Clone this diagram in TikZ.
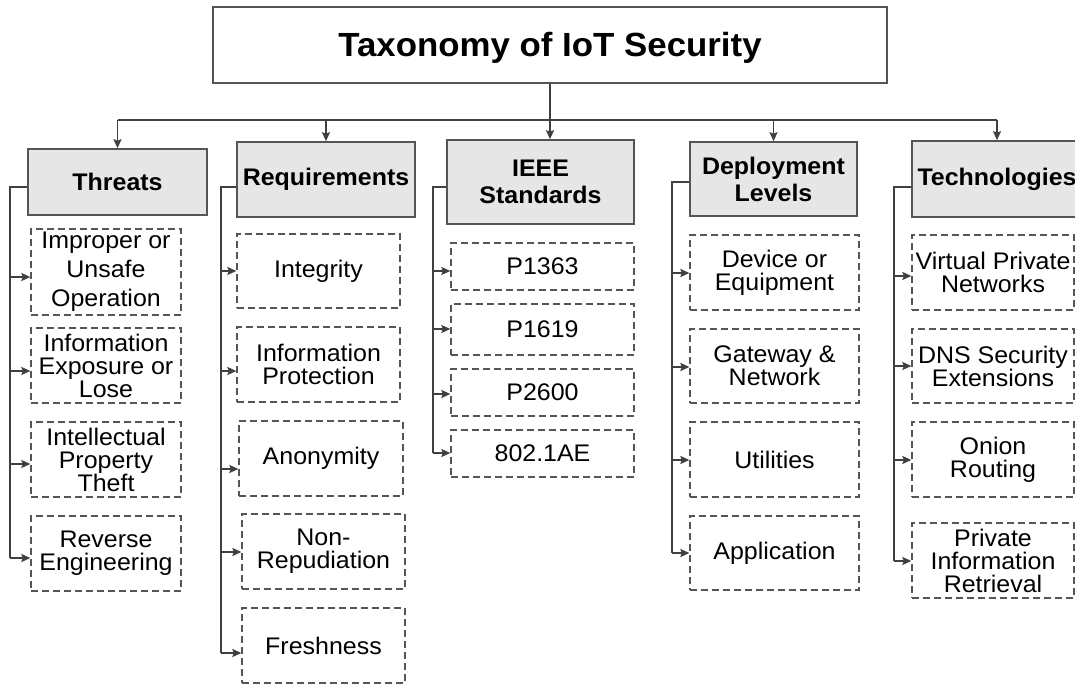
\documentclass[tikz,border=0pt]{standalone}
\usepackage{fontspec}
\setmainfont{Liberation Sans}[FakeStretch=1.04]
\usetikzlibrary{arrows.meta}
\definecolor{ln}{HTML}{404040}
\definecolor{bd}{HTML}{555555}
\definecolor{hf}{HTML}{E6E6E6}
\newcommand\lfarr[3]{\draw[arr] (#1,#2) -- (#1,#2 -| #3.west);}
\begin{document}
\begin{tikzpicture}[x=1pt,y=-1pt,
  conn/.style={draw=ln,line width=1.7pt},
  arr/.style={conn,-{Stealth[length=9pt,width=8pt,inset=1.5pt]}},
  titlebox/.style={draw=bd,line width=1.8pt,fill=white,minimum width=674pt,minimum height=76pt,inner sep=0pt,text height=28pt,text depth=5pt,font=\bfseries\fontsize{33.5}{38}\selectfont},
  headbox/.style={draw=bd,line width=1.6pt,fill=hf,inner sep=0pt,align=center,font=\bfseries\fontsize{24}{27}\selectfont},
  leafbox/.style={draw=bd,line width=1.3pt,dash pattern=on 7pt off 4pt,inner sep=0pt,align=center,font=\fontsize{24}{23}\selectfont},
]
\useasboundingbox (0,0) rectangle (1075,684);
% title
\node[titlebox] (title) at (550,45) {Taxonomy of IoT Security};
% headers
\node[headbox,minimum width=179pt,minimum height=66pt] (h1) at (117.5,182) {Threats};
\node[headbox,minimum width=178pt,minimum height=75pt] (h2) at (326,179.5) {Requirements};
\node[headbox,minimum width=187pt,minimum height=84pt] (h3) at (540.5,182) {IEEE\\Standards};
\node[headbox,minimum width=167pt,minimum height=74pt] (h4) at (773.5,179) {Deployment\\Levels};
\node[headbox,minimum width=170pt,minimum height=76pt] (h5) at (997,179) {Technologies};
% top connectors
\draw[conn] (title.south) -- (550,120) coordinate (bus);
\draw[conn] (h1.north |- bus) -- (h5.north |- bus);
\draw[arr] (h1.north |- bus) -- (h1.north);
\draw[arr] (h2.north |- bus) -- (h2.north);
\draw[arr] (bus) -- (bus |- h3.north);
\draw[arr] (h4.north |- bus) -- (h4.north);
\draw[arr] (h5.north |- bus) -- (h5.north);
% Threats children
\node[leafbox,minimum width=150pt,minimum height=86pt,font=\fontsize{24}{29}\selectfont] (t1) at (106,272) {Improper or\\Unsafe\\Operation};
\node[leafbox,minimum width=150pt,minimum height=75pt] (t2) at (106,365.5) {Information\\Exposure or\\Lose};
\node[leafbox,minimum width=150pt,minimum height=75pt] (t3) at (106,459.5) {Intellectual\\Property\\Theft};
\node[leafbox,minimum width=150pt,minimum height=75pt] (t4) at (106,553.5) {Reverse\\Engineering};
\draw[conn] ([yshift=-5pt]h1.west) -| (10,558);
\lfarr{10}{277}{t1}
\lfarr{10}{371}{t2}
\lfarr{10}{464}{t3}
\lfarr{10}{558}{t4}
% Requirements children
\node[leafbox,minimum width=163pt,minimum height=74pt] (r1) at (318.5,271) {Integrity};
\node[leafbox,minimum width=163pt,minimum height=75pt] (r2) at (318.5,364.5) {Information\\Protection};
\node[leafbox,minimum width=164pt,minimum height=75pt] (r3) at (321,458.5) {Anonymity};
\node[leafbox,minimum width=163pt,minimum height=75pt] (r4) at (323.5,551.5) {Non-\\Repudiation};
\node[leafbox,minimum width=163pt,minimum height=75pt] (r5) at (323.5,645.5) {Freshness};
\draw[conn] ([yshift=-7.5pt]h2.west) -| (221,653);
\lfarr{221}{271}{r1}
\lfarr{221}{371}{r2}
\lfarr{221}{469}{r3}
\lfarr{221}{552}{r4}
\lfarr{221}{653}{r5}
% IEEE children
\node[leafbox,minimum width=183pt,minimum height=47pt] (s1) at (542.5,266.5) {P1363};
\node[leafbox,minimum width=183pt,minimum height=51pt] (s2) at (542.5,329.5) {P1619};
\node[leafbox,minimum width=183pt,minimum height=47pt] (s3) at (542.5,392.5) {P2600};
\node[leafbox,minimum width=183pt,minimum height=47pt] (s4) at (542.5,453.5) {802.1AE};
\draw[conn] ([yshift=-5pt]h3.west) -| (433,453);
\lfarr{433}{271}{s1}
\lfarr{433}{329}{s2}
\lfarr{433}{394}{s3}
\lfarr{433}{453}{s4}
% Deployment children
\node[leafbox,minimum width=169pt,minimum height=75pt] (d1) at (774.5,272.5) {Device or\\Equipment};
\node[leafbox,minimum width=169pt,minimum height=74pt] (d2) at (774.5,366) {Gateway \&\\Network};
\node[leafbox,minimum width=169pt,minimum height=75pt] (d3) at (774.5,459.5) {Utilities};
\node[leafbox,minimum width=169pt,minimum height=74pt] (d4) at (774.5,553) {Application};
\draw[conn] ([yshift=-3pt]h4.west) -| (672,553);
\lfarr{672}{273}{d1}
\lfarr{672}{367}{d2}
\lfarr{672}{460}{d3}
\lfarr{672}{553}{d4}
% Technologies children
\node[leafbox,minimum width=162pt,minimum height=75pt] (g1) at (993,272.5) {Virtual Private\\Networks};
\node[leafbox,minimum width=162pt,minimum height=74pt] (g2) at (993,366) {DNS Security\\Extensions};
\node[leafbox,minimum width=162pt,minimum height=75pt] (g3) at (993,459.5) {Onion\\Routing};
\node[leafbox,minimum width=162pt,minimum height=75pt] (g4) at (993,560.5) {Private\\Information\\Retrieval};
\draw[conn] ([yshift=-8pt]h5.west) -| (894,561);
\lfarr{894}{276}{g1}
\lfarr{894}{366}{g2}
\lfarr{894}{460}{g3}
\lfarr{894}{561}{g4}
\end{tikzpicture}
\end{document}
